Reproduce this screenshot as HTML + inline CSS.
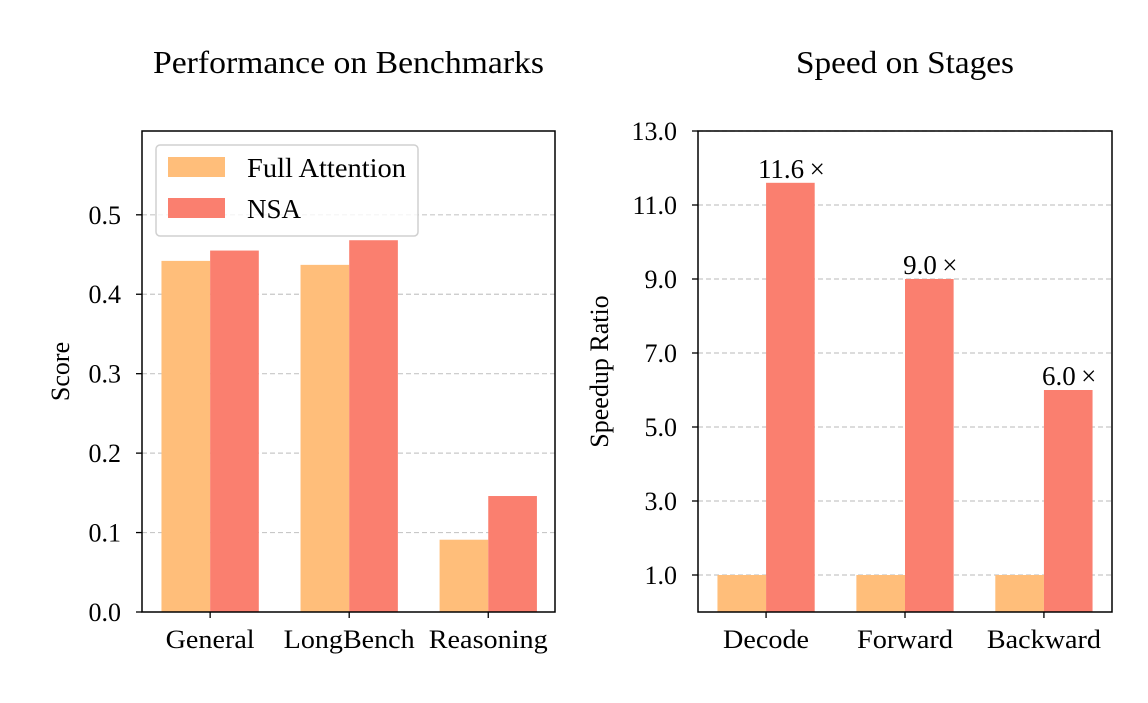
<!DOCTYPE html>
<html><head><meta charset="utf-8">
<style>
html,body{margin:0;padding:0;background:#fff;}
svg text{font-family:"Liberation Serif","DejaVu Serif",serif;fill:#000;}
</style></head>
<body>
<svg id="chart" width="1148" height="698" xmlns="http://www.w3.org/2000/svg"></svg>
<script>
const leftCategories = ["General","LongBench","Reasoning"];
const leftFull = [0.442,0.437,0.091];
const leftNSA = [0.455,0.468,0.146];
const leftTicks = [0.0,0.1,0.2,0.3,0.4,0.5];
const leftTickLabels = ["0.0","0.1","0.2","0.3","0.4","0.5"];

const rightCategories = ["Decode","Forward","Backward"];
const rightFull = [1.0,1.0,1.0];
const rightNSA = [11.6,9.0,6.0];
const rightTicks = [1,3,5,7,9,11,13];
const rightTickLabels = ["1.0","3.0","5.0","7.0","9.0","11.0","13.0"];
const rightBarLabels = ["11.6\u2009\u00d7","9.0\u2009\u00d7","6.0\u2009\u00d7"];

const NS = "http://www.w3.org/2000/svg";
const svg = document.getElementById('chart');
function mk(tag, attrs, parent){
  const e = document.createElementNS(NS, tag);
  for (const k in attrs) e.setAttribute(k, attrs[k]);
  (parent||svg).appendChild(e); return e;
}
const C_FULL = "#FFBE7A", C_NSA = "#FA7F6F";

function panel(o){
  const g = mk('g', {});
  
  
  const L=o.x0, R=o.x1, T=o.y0, B=o.y1;
  const ys = v => B - (v - o.ymin)/(o.ymax - o.ymin)*(B-T);
  const xs = v => L + (v - o.xmin)/(o.xmax - o.xmin)*(R-L);
  o.ticks.forEach((t,i)=>{
    const y = ys(t);
    if (t>o.ymin) { const gl = mk('line',{x1:L,x2:R,y1:y,y2:y,stroke:"#c8c8c8","stroke-width":1.2,"stroke-dasharray":"5,3"},g);
        }
    const tk = mk('line',{x1:L-6,x2:L,y1:y,y2:y,stroke:"#000","stroke-width":1.3},g);
     
    const tl = mk('text',{x:L-21,y:y+9,"text-anchor":"end","font-size":26},g);
    tl.textContent = o.tickLabels[i];
     
  });
  const w = 0.35;
  o.cats.forEach((c,i)=>{
    const y0 = ys(o.ymin);
    const y1 = ys(o.full[i]);
    const b1 = mk('rect',{x:xs(i-w),y:y1,width:xs(i)-xs(i-w),height:y0-y1,fill:C_FULL},g);
     
    const y2 = ys(o.nsa[i]);
    const b2 = mk('rect',{x:xs(i),y:y2,width:xs(i+w)-xs(i),height:y0-y2,fill:C_NSA},g);
     
    if (o.barLabels){
      const bl = mk('text',{x:xs(i+w/2)+1,y:y2-5,"text-anchor":"middle","font-size":27},g);
      bl.textContent = o.barLabels[i];
       
    }
    const xt = mk('line',{x1:xs(i),x2:xs(i),y1:B,y2:B+6,stroke:"#000","stroke-width":1.3},g);
     
    const xl = mk('text',{x:xs(i),y:B+36,"text-anchor":"middle","font-size":26},g);
    xl.textContent = c;
    if (o.xlabelW) { xl.setAttribute('textLength', o.xlabelW[i]); xl.setAttribute('lengthAdjust','spacingAndGlyphs'); }
     
  });
  const fr = mk('rect',{x:L,y:T,width:R-L,height:B-T,fill:"none",stroke:"#000","stroke-width":1.5},g);
   
  const tt = mk('text',{x:(L+R)/2,y:73,"text-anchor":"middle","font-size":32,textLength:o.titleW,lengthAdjust:"spacingAndGlyphs"},g);
  tt.textContent = o.title;
   
  const yl = mk('text',{x:0,y:0,"text-anchor":"middle","font-size":26,transform:`translate(${o.ylabelX},${(T+B)/2}) rotate(-90)`},g);
  yl.textContent = o.ylabel;
   
}

panel({name:'benchmark-panel',x0:142,x1:555,y0:131,y1:612,xmin:-0.49,xmax:2.48,ymin:0,ymax:0.6055,
  ticks:leftTicks,tickLabels:leftTickLabels,cats:leftCategories,full:leftFull,nsa:leftNSA,
  xlabelW:[89,131,119],titleW:391,
  title:"Performance on Benchmarks",ylabel:"Score",ylabelX:69});
panel({name:'speed-panel',x0:698,x1:1112,y0:131,y1:612,xmin:-0.49,xmax:2.49,ymin:0,ymax:13,
  ticks:rightTicks,tickLabels:rightTickLabels,cats:rightCategories,full:rightFull,nsa:rightNSA,
  xlabelW:[86,96,114],titleW:218,
  barLabels:rightBarLabels,title:"Speed on Stages",ylabel:"Speedup Ratio",ylabelX:608});

const lg = mk('g',{});
 
mk('rect',{x:156,y:145,width:262,height:91,rx:4,fill:"#fff","fill-opacity":0.8,stroke:"#d0d0d0","stroke-width":1.5},lg);
const e1 = mk('g',{},lg);  
mk('rect',{x:168,y:157,width:57,height:20,fill:C_FULL},e1);
const t1 = mk('text',{x:247,y:177,"font-size":27,textLength:159,lengthAdjust:"spacingAndGlyphs"},e1); t1.textContent="Full Attention";
const e2 = mk('g',{},lg);  
mk('rect',{x:168,y:198,width:57,height:20,fill:C_NSA},e2);
const t2 = mk('text',{x:247,y:218,"font-size":27},e2); t2.textContent="NSA";
</script>
</body></html>
